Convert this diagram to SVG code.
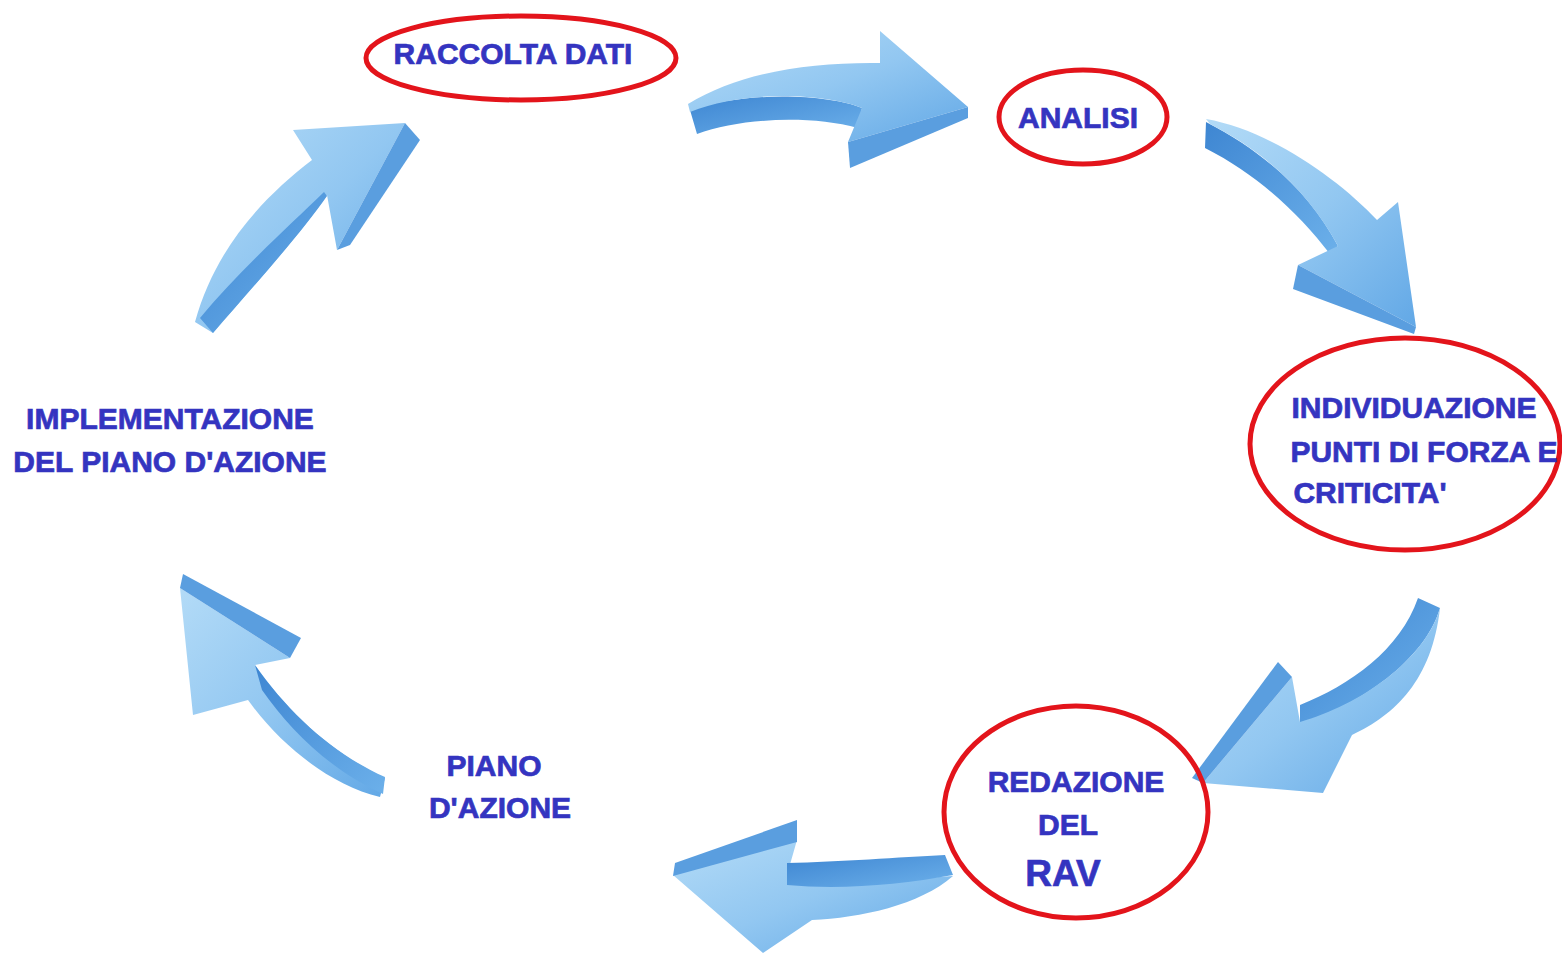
<svg xmlns="http://www.w3.org/2000/svg" width="1562" height="954" viewBox="0 0 1562 954">
<style>
  .lbl { font-family: "Liberation Sans", Arial, sans-serif; font-weight: bold; font-size: 30px; fill: #3434c0; stroke: #3434c0; stroke-width: 0.7; text-anchor: middle; }
  .ring { fill: none; stroke: #e3141b; stroke-width: 5; }
  .face { fill: url(#faceGrad); }
  .side { fill: url(#sideGrad); }
  .strip { fill: #5a9edf; }
</style>
<defs>
  <linearGradient id="faceGrad" x1="0" y1="0" x2="1" y2="1">
    <stop offset="0" stop-color="#b3dbf7"/>
    <stop offset="0.5" stop-color="#92c7f1"/>
    <stop offset="1" stop-color="#62a8e6"/>
  </linearGradient>
  <linearGradient id="sideGrad" x1="0" y1="0" x2="1" y2="1">
    <stop offset="0" stop-color="#3e86d2"/>
    <stop offset="1" stop-color="#6cb0ea"/>
  </linearGradient>
</defs>
<rect width="1562" height="954" fill="#ffffff"/>

<g id="connectors">
  <g id="arrow-raccolta-analisi">
    <path class="side" d="M690,110 C750,90 830,95 862,108 L858,128 C810,115 740,118 697,134 Z"/>
    <path class="face" d="M688,104 C740,72 810,62 880,63 L880,31 L968,107 L848,142 L862,108 C830,95 750,88 690,112 Z"/>
    <path class="strip" d="M848,142 L968,107 L968,118 L850,168 Z"/>
  </g>
  <g id="arrow-analisi-individuazione">
    <path class="side" d="M1206,122 C1270,155 1312,197 1338,246 L1330,254 C1300,215 1260,176 1205,148 Z"/>
    <path class="face" d="M1206,119 C1270,130 1340,180 1377,220 L1398,202 L1416,327 L1298,265 L1338,246 C1310,195 1270,155 1210,124 Z"/>
    <path class="strip" d="M1298,265 L1416,327 L1414,334 L1293,289 Z"/>
  </g>
  <g id="arrow-individuazione-redazione">
    <path class="side" d="M1418,598 L1440,608 C1425,660 1360,705 1300,724 L1300,705 C1350,685 1400,650 1418,598 Z"/>
    <path class="face" d="M1440,608 C1432,680 1395,715 1352,735 L1323,793 L1203,783 L1292,677 L1300,722 C1360,705 1425,660 1440,608 Z"/>
    <path class="strip" d="M1278,662 L1292,677 L1203,783 L1192,778 Z"/>
  </g>
  <g id="arrow-redazione-piano">
    <path class="face" d="M673,875 L797,840 L787,875 C840,885 900,880 953,876 C920,905 860,918 812,920 L763,953 Z"/>
    <path class="side" d="M787,863 C840,862 900,857 945,855 L953,875 C900,885 840,890 787,885 Z"/>
    <path class="strip" d="M675,863 L797,820 L797,842 L673,876 Z"/>
  </g>
  <g id="arrow-piano-implementazione">
    <path class="face" d="M180,588 L290,658 L255,665 C290,715 335,755 385,778 L380,797 C330,785 280,745 248,700 L193,715 Z"/>
    <path class="side" d="M255,665 C290,715 335,755 385,777 L383,794 C330,770 290,730 262,690 Z"/>
    <path class="strip" d="M183,574 L301,638 L290,658 L180,588 Z"/>
  </g>
  <g id="arrow-implementazione-raccolta">
    <path class="face" d="M195,322 C215,250 260,200 312,160 L293,130 L405,123 L337,250 L327,195 C300,235 250,290 213,333 Z"/>
    <path class="side" d="M324,192 C290,225 240,270 200,318 L213,333 C250,290 300,235 327,196 Z"/>
    <path class="strip" d="M405,123 L420,140 L350,245 L337,250 Z"/>
  </g>
</g>

<g id="node-raccolta">
  <ellipse class="ring" cx="521" cy="58" rx="155" ry="42"/>
  <text class="lbl" x="513" y="64">RACCOLTA DATI</text>
</g>
<g id="node-analisi">
  <ellipse class="ring" cx="1083" cy="117" rx="84" ry="47"/>
  <text class="lbl" x="1078" y="128">ANALISI</text>
</g>
<g id="node-individuazione">
  <ellipse class="ring" cx="1405" cy="444" rx="155" ry="106"/>
  <text class="lbl" x="1414" y="418">INDIVIDUAZIONE</text>
  <text class="lbl" x="1424" y="462">PUNTI DI FORZA E</text>
  <text class="lbl" x="1370" y="503">CRITICITA'</text>
</g>
<g id="node-redazione">
  <ellipse class="ring" cx="1076" cy="812" rx="132" ry="106"/>
  <text class="lbl" x="1076" y="792">REDAZIONE</text>
  <text class="lbl" x="1068" y="835">DEL</text>
  <text class="lbl" x="1063" y="886" style="font-size:37px">RAV</text>
</g>
<g id="node-piano">
  <text class="lbl" x="494" y="776">PIANO</text>
  <text class="lbl" x="500" y="818">D'AZIONE</text>
</g>
<g id="node-implementazione">
  <text class="lbl" x="170" y="429">IMPLEMENTAZIONE</text>
  <text class="lbl" x="170" y="472">DEL PIANO D'AZIONE</text>
</g>
</svg>
